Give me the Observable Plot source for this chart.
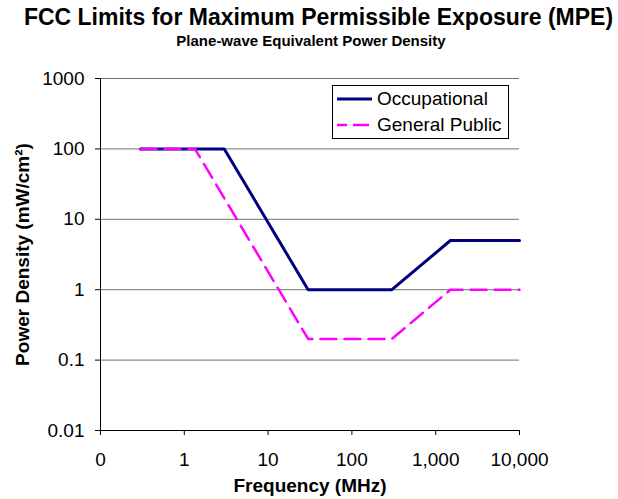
<!DOCTYPE html>
<html>
<head>
<meta charset="utf-8">
<script src="https://cdn.jsdelivr.net/npm/d3@7"></script>
<script src="https://cdn.jsdelivr.net/npm/@observablehq/plot@0.6"></script>
<style>
  html, body { margin: 0; padding: 0; background: white; }
  #wrap { position: relative; width: 618px; height: 499px; font-family: "Liberation Sans", Arial, sans-serif; color: black; }
  #title { padding-top: 4px; height: 26px; line-height: 26px; font-size: 23px; font-weight: bold; text-align: center; width: 637px; margin-left: 0; }
  #subtitle { height: 22px; line-height: 22px; font-size: 15px; font-weight: bold; text-align: center; width: 622px; }
  #legend { position: absolute; left: 332px; top: 85px; width: 175px; height: 52px; border: 1px solid black; background: white; font-size: 19px; }
  .row { position: absolute; left: 4px; height: 24px; line-height: 24px; white-space: nowrap; }
  .row svg { vertical-align: middle; margin-right: 5px; position: relative; top: -1px; }
</style>
</head>
<body>
<div id="wrap">
  <div id="title"></div>
  <div id="subtitle"></div>
  <div id="chart"></div>
  <div id="legend"></div>
</div>
<script>
// ---- data ----
const titleText = "FCC Limits for Maximum Permissible Exposure (MPE)";
const subtitleText = "Plane-wave Equivalent Power Density";
const xLabel = "Frequency (MHz)";
const yLabel = "Power Density (mW/cm²)";

const seriesNames = ["Occupational", "General Public"];
const occFreq = [0.3, 3, 30, 300, 1500, 10000];
const occDensity = [100, 100, 1, 1, 5, 5];
const pubFreq = [0.3, 1.34, 30, 300, 1500, 10000];
const pubDensity = [100, 100, 0.2, 0.2, 1, 1];

const xTicks = [0.1, 1, 10, 100, 1000, 10000];
const xTickLabels = ["0", "1", "10", "100", "1,000", "10,000"];
const yTicks = [0.01, 0.1, 1, 10, 100, 1000];
const yTickLabels = ["0.01", "0.1", "1", "10", "100", "1000"];

// ---- build ----
document.getElementById("title").textContent = titleText;
document.getElementById("subtitle").textContent = subtitleText;

const occ = occFreq.map((f, i) => ({f, p: occDensity[i]}));
const pub = pubFreq.map((f, i) => ({f, p: pubDensity[i]}));
const xFmt = new Map(xTicks.map((t, i) => [t, xTickLabels[i]]));
const yFmt = new Map(yTicks.map((t, i) => [t, yTickLabels[i]]));

const occColor = "#000080", pubColor = "#FF00FF";

const chart = Plot.plot({
  width: 618,
  height: 447,
  marginLeft: 100,
  marginRight: 99,
  marginTop: 26,
  marginBottom: 69,
  style: {fontSize: "19px", fontFamily: "'Liberation Sans', Arial, sans-serif", color: "black", background: "white", overflow: "visible"},
  x: {type: "log", domain: [0.1, 10000]},
  y: {type: "log", domain: [0.01, 1000]},
  marks: [
    Plot.ruleY(yTicks.slice(1), {stroke: "#707070", strokeWidth: 1}),
    Plot.ruleX([0.1], {stroke: "black", strokeWidth: 1}),
    Plot.ruleY([0.01], {stroke: "black", strokeWidth: 1}),
    Plot.axisX({ticks: xTicks, tickFormat: d => xFmt.get(d), tickSize: 5, tickPadding: 17, label: null, stroke: "black"}),
    Plot.axisY({ticks: yTicks, tickFormat: d => yFmt.get(d), tickSize: 5, tickPadding: 11, label: null, stroke: "black"}),
    Plot.line(occ, {x: "f", y: "p", stroke: occColor, strokeWidth: 3, strokeLinejoin: "miter"}),
    Plot.line(pub, {x: "f", y: "p", stroke: pubColor, strokeWidth: 2.5, strokeDasharray: "16,8", strokeLinejoin: "miter"}),
    Plot.text([yLabel], {frameAnchor: "left", textAnchor: "middle", dx: -78, rotate: -90, fontWeight: "bold", fontSize: 19}),
    Plot.text([xLabel], {frameAnchor: "bottom", dy: 61, fontWeight: "bold", fontSize: 19})
  ]
});
document.getElementById("chart").appendChild(chart);

// legend
const legend = document.getElementById("legend");
const legendStyles = [
  {color: occColor, width: 3, dash: null},
  {color: pubColor, width: 2.5, dash: "16,6"}
];
seriesNames.forEach((name, i) => {
  const row = document.createElement("div");
  row.className = "row";
  row.style.top = (1 + i * 26) + "px";
  const s = legendStyles[i];
  row.innerHTML = `<svg width="35" height="6"><line x1="0" y1="3" x2="35" y2="3" stroke="${s.color}" stroke-width="${s.width}" ${s.dash ? `stroke-dasharray="${s.dash}" stroke-dashoffset="6"` : ""}/></svg>${name}`;
  legend.appendChild(row);
});
</script>
</body>
</html>
